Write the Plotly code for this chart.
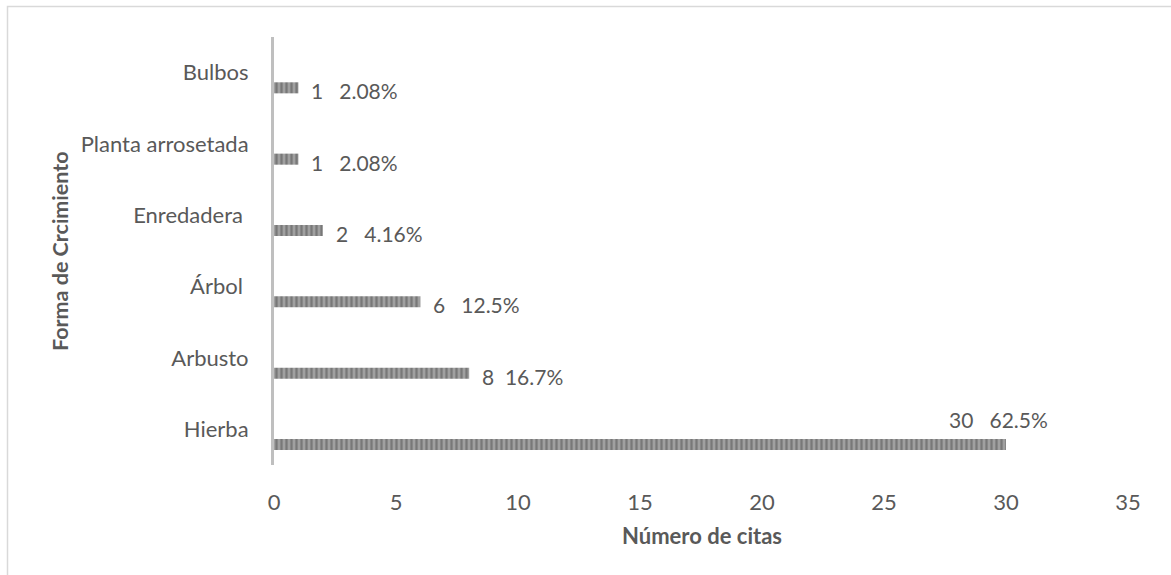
import plotly.graph_objects as go

categories = ["Hierba", "Arbusto", "Árbol ", "Enredadera ", "Planta arrosetada", "Bulbos"]
counts = [30, 8, 6, 2, 1, 1]
percents = ["62.5%", "16.7%", "12.5%", "4.16%", "2.08%", "2.08%"]
x_ticks = [0, 5, 10, 15, 20, 25, 30, 35]

W, H = 1171, 575
L, R, T, B = 274, 43, 37, 110
pw, ph = W - L - R, H - T - B

def px_x(p):
    return (p - L) / pw

def px_y(p):
    return (H - B - p) / ph

font_fam = "Lato, 'Open Sans', sans-serif"
txt_col = "#595959"

fig = go.Figure()
fig.add_trace(go.Bar(
    x=counts, y=categories, orientation="h",
    width=0.155, offset=-0.29,
    marker=dict(
        color="#a0a0a0",
        line=dict(width=0),
        pattern=dict(shape="|", fgcolor="#505050", bgcolor="#a0a0a0", size=5, solidity=0.45),
    ),
    hoverinfo="x+y",
))

annotations = []
for c, v, p in zip(categories, counts, percents):
    gap = "\u00a0\u00a0" if v == 8 else "\u00a0\u00a0\u00a0"
    if v == max(counts):
        annotations.append(dict(x=v, y=c, text=f"{v}{gap}{p}", showarrow=False,
                                xanchor="center", yanchor="middle", xshift=-8, yshift=10,
                                font=dict(size=21, color=txt_col, family=font_fam)))
    else:
        annotations.append(dict(x=v, y=c, text=f"{v}{gap}{p}", showarrow=False,
                                xanchor="left", yanchor="middle", xshift=11, yshift=-18,
                                font=dict(size=21, color=txt_col, family=font_fam)))

annotations.append(dict(x=px_x(60), y=px_y(251), xref="paper", yref="paper",
                        text="<b>Forma de Crcimiento</b>", textangle=-90, showarrow=False,
                        xanchor="center", yanchor="middle",
                        font=dict(size=21.5, color=txt_col, family=font_fam)))
annotations.append(dict(x=px_x(702), y=px_y(535), xref="paper", yref="paper",
                        text="<b>Número de citas</b>", showarrow=False,
                        xanchor="center", yanchor="middle",
                        font=dict(size=22, color=txt_col, family=font_fam)))

fig.update_layout(
    width=W, height=H,
    margin=dict(l=L, r=R, t=T, b=B),
    paper_bgcolor="white", plot_bgcolor="white",
    showlegend=False,
    font=dict(family=font_fam, color=txt_col, size=22),
    xaxis=dict(range=[0, 35], tickvals=x_ticks, ticktext=[str(t) for t in x_ticks],
               showgrid=False, zeroline=False, showline=False, ticks="",
               ticklabelstandoff=22, tickfont=dict(size=22, color=txt_col)),
    yaxis=dict(type="category", range=[-0.5, 5.5], showgrid=False, zeroline=False,
               showline=True, linecolor="#bfbfbf", linewidth=3, ticks="",
               ticklabelstandoff=18, tickfont=dict(size=22, color=txt_col)),
    annotations=annotations,
    shapes=[dict(type="rect", xref="paper", yref="paper",
                 x0=px_x(7.5), x1=px_x(1200), y0=px_y(600), y1=px_y(6.5),
                 line=dict(color="#d9d9d9", width=1.5), layer="below")],
)

fig.write_html("out.html", config={"displayModeBar": False},
               post_script="document.body.style.margin='0px';")
